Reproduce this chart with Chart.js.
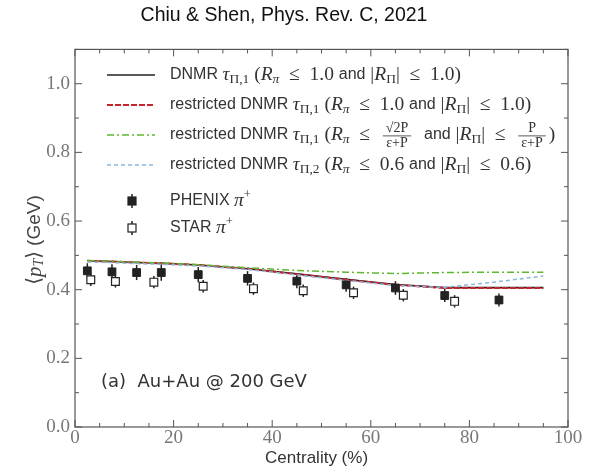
<!DOCTYPE html>
<html>
<head>
<meta charset="utf-8">
<script src="https://cdn.jsdelivr.net/npm/chart.js@4.4.1/dist/chart.umd.min.js"></script>
<style>
  html, body { margin: 0; padding: 0; background: #fff; }
  #wrap { width: 593px; height: 476px; position: relative; }
</style>
</head>
<body>
<div id="wrap"><canvas id="chart"></canvas></div>
<script>
// ---- data ----
const chartTitle = 'Chiu & Shen, Phys. Rev. C, 2021';
const panelLabel = '(a)  Au+Au @ 200 GeV';
const xTitle = 'Centrality (%)';

const xTicks = [0, 20, 40, 60, 80, 100];
const yTicks = [0.0, 0.2, 0.4, 0.6, 0.8, 1.0];

const modelX = [2.5, 7.5, 12.5, 17.5, 25, 35, 45, 55, 65, 75, 85, 95];
const dnmr = [0.484, 0.482, 0.479, 0.477, 0.472, 0.461, 0.446, 0.430, 0.415, 0.406, 0.406, 0.406];
const restricted1 = [0.484, 0.482, 0.479, 0.477, 0.472, 0.461, 0.445, 0.429, 0.414, 0.405, 0.405, 0.405];
const restrictedSqrt = [0.485, 0.483, 0.480, 0.478, 0.473, 0.464, 0.456, 0.451, 0.447, 0.450, 0.451, 0.451];
const restricted2 = [0.481, 0.479, 0.476, 0.474, 0.469, 0.459, 0.443, 0.427, 0.412, 0.407, 0.422, 0.440];

const phenixX = [2.5, 7.5, 12.5, 17.5, 25, 35, 45, 55, 65, 75, 86];
const phenixY = [0.455, 0.452, 0.450, 0.450, 0.444, 0.433, 0.425, 0.414, 0.405, 0.383, 0.370];
const phenixErr = [0.022, 0.022, 0.022, 0.024, 0.022, 0.021, 0.021, 0.020, 0.020, 0.019, 0.019];

const starX = [3.2, 8.2, 16, 26, 36.2, 46.3, 56.5, 66.6, 77];
const starY = [0.429, 0.424, 0.422, 0.410, 0.403, 0.397, 0.391, 0.384, 0.366];
const starErr = [0.018, 0.018, 0.018, 0.018, 0.018, 0.018, 0.018, 0.018, 0.018];

// legend labels as rich text pieces: [text, kind]
const legendLabels = [
  [['DNMR ', 't'], ['τ', 'm'], ['Π,1', 'b'], [' (', 'r'], ['R', 'm'], ['π', 'bi'], ['  ≤  1.0 ', 'r'], ['and', 't'], [' |', 'r'], ['R', 'm'], ['Π', 'b'], ['|  ≤  1.0)', 'r']],
  [['restricted DNMR ', 't'], ['τ', 'm'], ['Π,1', 'b'], [' (', 'r'], ['R', 'm'], ['π', 'bi'], ['  ≤  1.0 ', 'r'], ['and', 't'], [' |', 'r'], ['R', 'm'], ['Π', 'b'], ['|  ≤  1.0)', 'r']],
  [['restricted DNMR ', 't'], ['τ', 'm'], ['Π,1', 'b'], [' (', 'r'], ['R', 'm'], ['π', 'bi'], ['  ≤  ', 'r'], [['√2P', 'ε+P'], 'f'], ['  ', 'r'], ['and', 't'], [' |', 'r'], ['R', 'm'], ['Π', 'b'], ['|  ≤  ', 'r'], [['P', 'ε+P'], 'f'], [')', 'r']],
  [['restricted DNMR ', 't'], ['τ', 'm'], ['Π,2', 'b'], [' (', 'r'], ['R', 'm'], ['π', 'bi'], ['  ≤  0.6 ', 'r'], ['and', 't'], [' |', 'r'], ['R', 'm'], ['Π', 'b'], ['|  ≤  0.6)', 'r']],
  [['PHENIX ', 't'], ['π', 'm'], ['+', 'p']],
  [['STAR ', 't'], ['π', 'm'], ['+', 'p']]
];
const yTitleParts = [['⟨', 'r'], ['p', 'm'], ['T', 'bi'], ['⟩ ', 'r'], ['(GeV)', 't']];

const SANS = '"Liberation Sans", Arial, sans-serif';
const SERIF = '"Liberation Serif", "DejaVu Serif", serif';

const legendFonts = {
  t: ['16px ' + SANS, 0], m: ['italic 19.5px ' + SERIF, 0], r: ['19.5px ' + SERIF, 0],
  b: ['13.5px ' + SERIF, 4], bi: ['italic 13.5px ' + SERIF, 4], p: ['12.5px ' + SERIF, -6],
  f: ['14px ' + SERIF, 0]
};
const yTitleFonts = {
  t: ['19px ' + SANS, 0], m: ['italic 21px ' + SERIF, 0], r: ['20px ' + SERIF, 0],
  bi: ['italic 14px ' + SERIF, 4]
};

function pts(xs, ys) {
  return xs.map((x, i) => ({ x: x, y: ys[i] }));
}

function fracWidth(ctx, t) {
  return Math.max(ctx.measureText(t[0]).width, ctx.measureText(t[1]).width) + 6;
}

function richWidth(ctx, parts, fonts) {
  let w = 0;
  for (const [t, k] of parts) {
    ctx.font = fonts[k][0];
    w += k === 'f' ? fracWidth(ctx, t) + 6 : ctx.measureText(t).width;
  }
  return w;
}

function drawRich(ctx, x, y, parts, fonts) {
  ctx.textBaseline = 'middle';
  ctx.textAlign = 'left';
  for (const [t, k] of parts) {
    ctx.font = fonts[k][0];
    if (k === 'f') {
      const w = fracWidth(ctx, t);
      x += 3;
      ctx.textAlign = 'center';
      ctx.fillText(t[0], x + w / 2, y - 7);
      ctx.fillText(t[1], x + w / 2, y + 8);
      ctx.fillRect(x, y + 0.5, w, 0.8);
      ctx.textAlign = 'left';
      x += w + 3;
      continue;
    }
    ctx.fillText(t, x, y + fonts[k][1]);
    x += ctx.measureText(t).width;
  }
}

const decorPlugin = {
  id: 'decor',
  beforeDatasetsDraw(chart) {
    const { ctx, scales: { x, y } } = chart;
    ctx.save();
    ctx.strokeStyle = '#222';
    ctx.lineWidth = 1.5;
    [[phenixX, phenixY, phenixErr], [starX, starY, starErr]].forEach(([xs, ys, es]) => {
      xs.forEach((v, i) => {
        const px = x.getPixelForValue(v);
        ctx.beginPath();
        ctx.moveTo(px, y.getPixelForValue(ys[i] + es[i]));
        ctx.lineTo(px, y.getPixelForValue(ys[i] - es[i]));
        ctx.stroke();
      });
    });
    ctx.restore();
  },
  afterDraw(chart) {
    const { ctx, chartArea: a, scales: { x, y } } = chart;
    ctx.save();
    // frame
    ctx.strokeStyle = '#555';
    ctx.lineWidth = 1.2;
    ctx.strokeRect(a.left, a.top, a.right - a.left, a.bottom - a.top);
    // inside ticks on all four sides
    ctx.lineWidth = 1;
    ctx.beginPath();
    for (let v = 0; v <= 100; v += 5) {
      const px = x.getPixelForValue(v);
      const len = v % 20 === 0 ? 7 : 4;
      ctx.moveTo(px, a.bottom); ctx.lineTo(px, a.bottom - len);
      ctx.moveTo(px, a.top); ctx.lineTo(px, a.top + len);
    }
    for (let k = 0; k <= 11; k++) {
      const py = y.getPixelForValue(k / 10);
      const len = k % 2 === 0 ? 7 : 4;
      ctx.moveTo(a.left, py); ctx.lineTo(a.left + len, py);
      ctx.moveTo(a.right, py); ctx.lineTo(a.right - len, py);
    }
    ctx.stroke();

    // legend
    const sx0 = a.left + 32, sx1 = a.left + 80, tx = a.left + 95;
    const rows = [75, 105, 135, 165, 201, 228];
    ctx.fillStyle = '#333';
    legendLabels.forEach((parts, i) => {
      const ry = rows[i];
      const ds = chart.data.datasets[i];
      if (i < 4) {
        ctx.save();
        ctx.strokeStyle = ds.borderColor;
        ctx.lineWidth = ds.borderWidth;
        ctx.setLineDash(ds.borderDash || []);
        ctx.beginPath();
        ctx.moveTo(sx0, ry); ctx.lineTo(sx1, ry);
        ctx.stroke();
        ctx.restore();
      } else {
        const cx = (sx0 + sx1) / 2 + 1;
        ctx.save();
        ctx.strokeStyle = '#222';
        ctx.lineWidth = 1.5;
        ctx.beginPath();
        ctx.moveTo(cx, ry - 7); ctx.lineTo(cx, ry + 7);
        ctx.stroke();
        ctx.lineWidth = 1.2;
        ctx.fillStyle = ds.backgroundColor;
        ctx.fillRect(cx - 4, ry - 4, 8, 8);
        ctx.strokeRect(cx - 4, ry - 4, 8, 8);
        ctx.restore();
      }
      drawRich(ctx, tx, ry, parts, legendFonts);
    });

    // panel label
    ctx.font = '18px "DejaVu Sans", sans-serif';
    ctx.fillStyle = '#333';
    ctx.textBaseline = 'middle';
    ctx.textAlign = 'left';
    ctx.fillText(panelLabel, a.left + 26, y.getPixelForValue(0.13));

    // x axis title
    ctx.font = '17px ' + SANS;
    ctx.textAlign = 'center';
    ctx.fillText(xTitle, x.getPixelForValue(49), a.bottom + 31);

    // y axis title, rotated
    ctx.translate(35, 240);
    ctx.rotate(-Math.PI / 2);
    ctx.fillStyle = '#444';
    const w = richWidth(ctx, yTitleParts, yTitleFonts);
    drawRich(ctx, -w / 2, 0, yTitleParts, yTitleFonts);
    ctx.restore();
  }
};

new Chart(document.getElementById('chart'), {
  type: 'line',
  data: {
    datasets: [
      { label: 'DNMR', data: pts(modelX, dnmr), borderColor: '#222', borderWidth: 1.6, pointRadius: 0, order: 4 },
      { label: 'restricted DNMR 1', data: pts(modelX, restricted1), borderColor: '#c8232c', borderWidth: 2, borderDash: [6, 2], pointRadius: 0, order: 3 },
      { label: 'restricted DNMR sqrt', data: pts(modelX, restrictedSqrt), borderColor: '#5cb82e', borderWidth: 1.5, borderDash: [7, 3, 2, 3], pointRadius: 0, order: 2 },
      { label: 'restricted DNMR 2', data: pts(modelX, restricted2), borderColor: '#8ab6dc', borderWidth: 1.5, borderDash: [4, 3], pointRadius: 0, order: 1 },
      { label: 'PHENIX', type: 'scatter', data: pts(phenixX, phenixY), pointStyle: 'rect', pointRadius: 5.5, backgroundColor: '#222', borderColor: '#222', borderWidth: 1, order: 0 },
      { label: 'STAR', type: 'scatter', data: pts(starX, starY), pointStyle: 'rect', pointRadius: 5.5, backgroundColor: '#fff', borderColor: '#222', borderWidth: 1.2, order: 0 }
    ]
  },
  options: {
    responsive: true,
    maintainAspectRatio: false,
    animation: false,
    devicePixelRatio: 1,
    layout: { padding: { left: 0, right: 25, top: 0, bottom: 0 } },
    plugins: {
      legend: { display: false },
      tooltip: { enabled: false },
      title: {
        display: true,
        text: chartTitle,
        color: '#111',
        font: { family: SANS, size: 19.5, weight: 'normal' },
        padding: { top: 4, bottom: 22 }
      }
    },
    scales: {
      x: {
        type: 'linear',
        min: 0,
        max: 100,
        afterBuildTicks(s) { s.ticks = xTicks.map(v => ({ value: v })); },
        afterFit(s) { s.height = 49; },
        grid: { display: false, drawTicks: false },
        border: { display: false },
        ticks: { font: { family: SERIF, size: 19 }, color: '#777', padding: 0, maxRotation: 0 }
      },
      y: {
        min: 0,
        max: 1.1,
        afterBuildTicks(s) { s.ticks = yTicks.map(v => ({ value: v })); },
        afterFit(s) { s.width = 75; },
        grid: { display: false, drawTicks: false },
        border: { display: false },
        ticks: { font: { family: SERIF, size: 19 }, color: '#777', padding: 5, callback: v => v.toFixed(1) }
      }
    }
  },
  plugins: [decorPlugin]
});
</script>
</body>
</html>
